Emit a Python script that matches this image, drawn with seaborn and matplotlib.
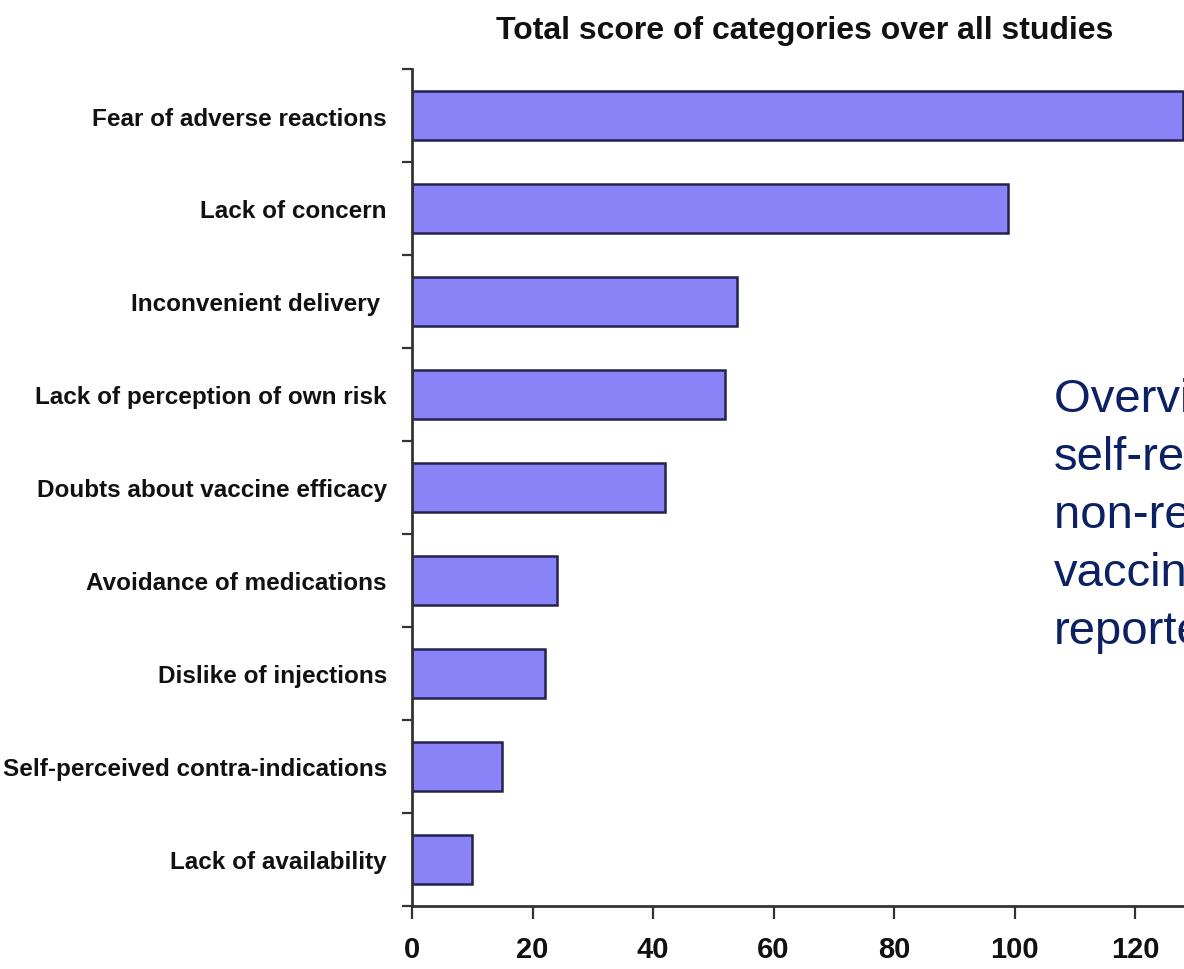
import matplotlib
matplotlib.use("Agg")
import matplotlib.pyplot as plt
import seaborn as sns
import pandas as pd
from matplotlib.ticker import FixedLocator

# Reasons for not getting vaccinated and their total score across studies
categories = [
    "Fear of adverse reactions",
    "Lack of concern",
    "Inconvenient delivery ",
    "Lack of perception of own risk",
    "Doubts about vaccine efficacy",
    "Avoidance of medications",
    "Dislike of injections",
    "Self-perceived contra-indications",
    "Lack of availability",
]
scores = [128, 99, 54, 52, 42, 24, 22, 15, 10]
x_ticks = [0, 20, 40, 60, 80, 100, 120]

side_note = ["Overview of", "self-reported", "non-receipt of", "vaccination", "reported"]

df = pd.DataFrame({"category": categories, "score": scores})

sns.set_theme(style="white")
narrow = ["Liberation Sans Narrow", "Liberation Sans", "DejaVu Sans"]
plt.rcParams["font.family"] = narrow

W, H = 1184, 970
fig = plt.figure(figsize=(W / 100, H / 100), dpi=100)

# axes runs from the y spine to past the right edge of the canvas
px_per_unit = 6.025
x_max = 135
left_px, top_px, bottom_px = 412, 70, 907
ax = fig.add_axes([
    left_px / W,
    1 - bottom_px / H,
    x_max * px_per_unit / W,
    (bottom_px - top_px) / H,
])

sns.barplot(
    data=df, y="category", x="score", orient="h", ax=ax,
    color="#8A82F7", saturation=1, width=0.52,
    edgecolor="#23234d", linewidth=1.8,
)

ax.set_xlim(0, x_max)
ax.set_ylim(len(categories) - 0.5, -0.5)
ax.set_xlabel("")
ax.set_ylabel("")

ax.set_xticks(x_ticks)
ax.set_xticklabels([str(t) for t in x_ticks], fontsize=21, fontweight="bold")
ax.tick_params(axis="x", length=9, width=1.6, color="#333333", pad=12,
               direction="out", bottom=True, labelcolor="#111111")

ax.set_yticks(range(len(categories)))
ax.set_yticklabels(categories, fontsize=17.5, fontweight="bold")
ax.tick_params(axis="y", which="major", length=0, pad=18, labelcolor="#111111")
ax.yaxis.set_minor_locator(FixedLocator([i - 0.5 for i in range(len(categories) + 1)]))
ax.tick_params(axis="y", which="minor", length=7, width=1.6, color="#333333",
               direction="out", left=True)

for side in ["top", "right"]:
    ax.spines[side].set_visible(False)
for side in ["left", "bottom"]:
    ax.spines[side].set_color("#333333")
    ax.spines[side].set_linewidth(2)

fig.text(805 / W, 1 - 31 / H, "Total score of categories over all studies",
         ha="center", va="center", fontsize=23, fontweight="bold", color="#111111")

for i, line in enumerate(side_note):
    fig.text(1054 / W, 1 - (400 + i * 58) / H, line, ha="left", va="center",
             fontsize=34, color="#0b2163", family=["Liberation Sans", "DejaVu Sans"])

fig.savefig("out.png", dpi=100)
